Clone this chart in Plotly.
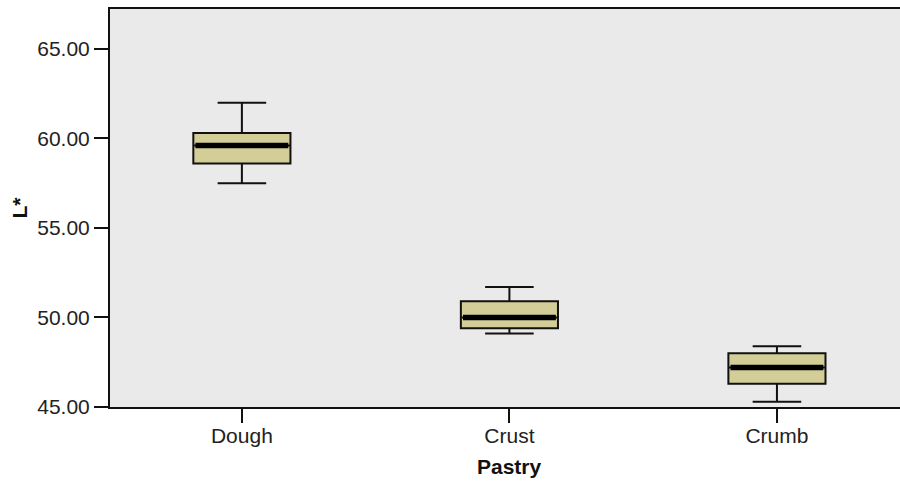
import plotly.graph_objects as go

categories = ["Dough", "Crust", "Crumb"]
lower_whisker = [57.5, 49.1, 45.3]
q1 = [58.6, 49.4, 46.3]
median = [59.6, 50.0, 47.2]
q3 = [60.3, 50.9, 48.0]
upper_whisker = [62.0, 51.7, 48.4]

y_ticks = [45, 50, 55, 60, 65]

BOX_W = 0.363
FONT = "Liberation Sans, Arial, sans-serif"
FS = 21

fig = go.Figure()
fig.add_trace(go.Box(
    x=categories, q1=q1, median=median, q3=q3,
    lowerfence=lower_whisker, upperfence=upper_whisker,
    width=BOX_W, whiskerwidth=0.5,
    fillcolor="#D3CE97", line=dict(color="#111111", width=2),
    boxpoints=False, showlegend=False, hoverinfo="skip",
))
# thick median bar
fig.add_trace(go.Box(
    x=categories, q1=median, median=median, q3=median,
    lowerfence=median, upperfence=median,
    width=BOX_W - 0.016, whiskerwidth=0,
    fillcolor="rgba(0,0,0,0)", line=dict(color="#000000", width=5.5),
    boxpoints=False, showlegend=False, hoverinfo="skip",
))

fig.update_layout(
    width=900, height=481,
    margin=dict(l=110, r=0, t=9, b=74),
    paper_bgcolor="white", plot_bgcolor="#EAEAEA",
    boxmode="overlay",
    font=dict(family=FONT, size=FS, color="#222222"),
)
fig.update_xaxes(
    type="category", range=[-0.493, 2.46], automargin=False,
    showgrid=False, zeroline=False,
    showline=True, linecolor="#111111", linewidth=2, mirror=True,
    ticks="outside", ticklen=14, tickwidth=2, tickcolor="#111111",
    tickfont=dict(size=FS, color="#222222"), ticklabelstandoff=-5,
)
fig.update_yaxes(
    range=[45, 67.23], tickvals=y_ticks, tickformat=".2f", automargin=False,
    showgrid=False, zeroline=False,
    showline=True, linecolor="#111111", linewidth=2,
    ticks="outside", ticklen=14, tickwidth=2, tickcolor="#111111",
    tickfont=dict(size=FS, color="#222222"),
    title=dict(text="<b>L*</b>", font=dict(size=FS, color="#111111"), standoff=4),
)
fig.add_annotation(
    text="<b>Pastry</b>", x=1, xref="x", y=-0.15, yref="paper",
    showarrow=False, font=dict(size=FS, color="#111111"),
    xanchor="center", yanchor="middle",
)

fig.write_html(
    "out.html",
    config={"displayModeBar": False},
    post_script="document.body.style.margin='0';document.body.style.overflow='hidden';",
)
